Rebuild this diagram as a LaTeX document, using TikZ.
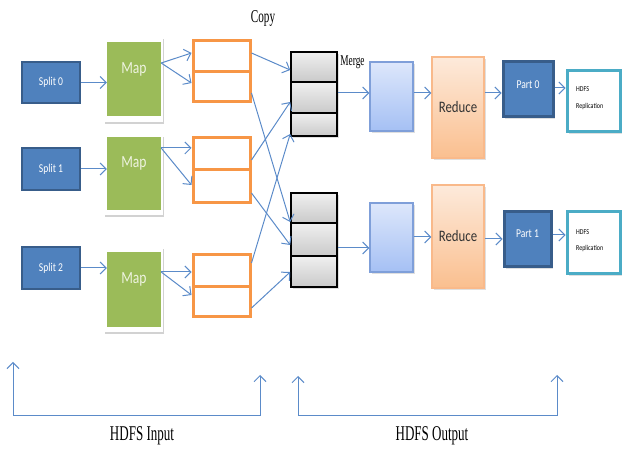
\documentclass[tikz,border=0pt]{standalone}
\usepackage{fontspec}
\setmainfont{Carlito}
\newfontfamily\capfont[FakeStretch=0.62]{Liberation Serif}
\newfontfamily\boxfont[FakeStretch=0.8]{Carlito}
\usetikzlibrary{arrows.meta,shadows}

\definecolor{flow}{HTML}{5B8BC9}
\definecolor{darkfill}{HTML}{4F81BD}
\definecolor{darkedge}{HTML}{385D8A}
\definecolor{mapgreen}{HTML}{9BBB59}
\definecolor{maptext}{HTML}{EEF3E0}
\definecolor{bufedge}{HTML}{F79646}
\definecolor{sorttop}{HTML}{DDE7FB}
\definecolor{sortbot}{HTML}{A5C0F4}
\definecolor{sortedge}{HTML}{7F9FD9}
\definecolor{redtop}{HTML}{FDEADB}
\definecolor{redbot}{HTML}{FABF8F}
\definecolor{rededge}{HTML}{F9B98A}
\definecolor{hdfsedge}{HTML}{4BACC6}

\tikzset{
  softshadow/.style={drop shadow={opacity=0.25,shadow xshift=1.5pt,shadow yshift=-2pt}},
  framedshadow/.style={drop shadow={opacity=0.35,shadow xshift=1pt,shadow yshift=-2.5pt}},
  splitbox/.style={draw=darkedge,line width=2.5pt,fill=darkfill,text=white,
    font=\boxfont\fontsize{12}{14}\selectfont,inner sep=0pt},
  mapframe/.style={fill=white,framedshadow,inner sep=0pt},
  mapbox/.style={fill=mapgreen,inner sep=0pt},
  maplabel/.style={text=maptext,font=\boxfont\fontsize{17}{20}\selectfont,inner sep=0pt},
  bufcell/.style={draw=bufedge,line width=3pt,fill=white,minimum width=57pt,inner sep=0pt},
  mergecell/.style={draw=black,line width=1.6pt,top color=gray!12,bottom color=gray!42,
    minimum width=46pt,inner sep=0pt,softshadow},
  sortbox/.style={draw=sortedge,line width=1.3pt,top color=sorttop,bottom color=sortbot,
    minimum width=43pt,minimum height=69pt,inner sep=0pt,softshadow},
  reducebox/.style={draw=rededge,line width=1.3pt,top color=redtop,bottom color=redbot,
    minimum width=52pt,inner sep=0pt,text=black!80,
    font=\boxfont\fontsize{16}{19}\selectfont,softshadow},
  partbox/.style={draw=darkedge,line width=3pt,fill=darkfill,text=white,inner sep=0pt,
    minimum height=55pt,softshadow},
  hdfsbox/.style={draw=hdfsedge,line width=3pt,fill=white,minimum width=53pt,inner sep=0pt,
    softshadow},
  hdfslabel/.style={anchor=west,inner sep=0pt,font=\boxfont\fontsize{7.5}{8}\selectfont},
  partlabel/.style={text=white,inner sep=0pt,font=\boxfont\fontsize{12}{14}\selectfont},
  captxt/.style={inner sep=0pt,text=black},
  arr/.style={draw=flow,line width=1pt,-{Straight Barb[length=6pt,width=12pt]}},
  span/.style={draw=flow,line width=1pt,{Straight Barb[length=6pt,width=12pt]}-{Straight Barb[length=6pt,width=12pt]}}
}

\begin{document}
\begin{tikzpicture}[x=1pt,y=-1pt]
\useasboundingbox[fill=white] (0,0) rectangle (622,449);

% input splits
\node[splitbox,minimum width=58pt,minimum height=41pt] (s0) at (51,82.5) {Split 0};
\node[splitbox,minimum width=58pt,minimum height=42pt] (s1) at (51,169) {Split 1};
\node[splitbox,minimum width=58pt,minimum height=42pt] (s2) at (51,268) {Split 2};

% map tasks
\node[mapframe,minimum width=59pt,minimum height=85pt] (f0) at (133.5,79.5) {};
\node[mapbox,minimum width=54pt,minimum height=74pt] (g0) at (134,79) {};
\node[maplabel] (t0) at (134,69) {Map};
\node[mapframe,minimum width=59pt,minimum height=80pt] (f1) at (133.5,175) {};
\node[mapbox,minimum width=54pt,minimum height=73pt] (g1) at (134,173.5) {};
\node[maplabel] (t1) at (134,163) {Map};
\node[mapframe,minimum width=59pt,minimum height=85pt] (f2) at (133.5,289.5) {};
\node[mapbox,minimum width=54pt,minimum height=75pt] (g2) at (134,289.5) {};
\node[maplabel] (t2) at (134,279) {Map};

% map output buffers
\node[bufcell,minimum height=31pt] (b0a) at (221.5,56.5) {};
\node[bufcell,minimum height=30pt] (b0b) at (221.5,87) {};
\node[bufcell,minimum height=32pt] (b1a) at (221.5,154) {};
\node[bufcell,minimum height=33pt] (b1b) at (221.5,186.5) {};
\node[bufcell,minimum height=32pt] (b2a) at (221.5,271) {};
\node[bufcell,minimum height=30pt] (b2b) at (221.5,302) {};

% merge stacks
\node[mergecell,minimum height=30pt] (ma1) at (314,67) {};
\node[mergecell,minimum height=31pt] (ma2) at (314,97.5) {};
\node[mergecell,minimum height=23pt] (ma3) at (314,124.5) {};
\node[mergecell,minimum height=30pt] (mb1) at (314,208) {};
\node[mergecell,minimum height=33pt] (mb2) at (314,239.5) {};
\node[mergecell,minimum height=31pt] (mb3) at (314,271.5) {};

% sorted inputs
\node[sortbox] (sa) at (391.5,96.5) {};
\node[sortbox] (sb) at (391.5,237.5) {};

% reducers
\node[reducebox,minimum height=101pt] (ra) at (458,107.5) {Reduce};
\node[reducebox,minimum height=103pt] (rb) at (458,236.5) {Reduce};

% output parts
\node[partbox,minimum width=50pt] (pa) at (528,89.5) {};
\node[partlabel] (pat) at (528,85) {Part 0};
\node[partbox,minimum width=47pt] (pb) at (527.5,239.5) {};
\node[partlabel] (pbt) at (527.5,234) {Part 1};

% replication targets
\node[hdfsbox,minimum height=61pt] (ha) at (593.5,101.5) {};
\node[hdfslabel] (ha1) at (576,89) {HDFS};
\node[hdfslabel] (ha2) at (576,107) {Replication};
\node[hdfsbox,minimum height=62pt] (hb) at (593.5,243) {};
\node[hdfslabel] (hb1) at (576,232) {HDFS};
\node[hdfslabel] (hb2) at (576,249) {Replication};

% captions
\node[captxt,font=\capfont\fontsize{18}{20}\selectfont] (copy) at (263,18) {Copy};
\node[captxt,font=\capfont\fontsize{15}{17}\selectfont] (merge) at (352.5,62) {Merge};
\node[captxt,font=\capfont\fontsize{21}{24}\selectfont] (hin) at (142,436) {HDFS Input};
\node[captxt,font=\capfont\fontsize{21}{24}\selectfont] (hout) at (432,436) {HDFS Output};

% splits to maps
\draw[arr] (s0.east) -- (g0.west |- s0.east);
\draw[arr] (s1.east) -- (g1.west |- s1.east);
\draw[arr] (s2.east) -- (g2.west |- s2.east);

% maps to buffers
\draw[arr] (g0.east |- 0,63) -- (b0a.west |- 0,53);
\draw[arr] (g0.east |- 0,63) -- (b0b.west |- 0,83);
\draw[arr] (g1.east |- 0,148) -- (b1a.west |- 0,148);
\draw[arr] (g1.east |- 0,148) -- (b1b.west |- 0,185);
\draw[arr] (g2.east |- 0,272) -- (b2a.west |- 0,272);
\draw[arr] (g2.east |- 0,272) -- (b2b.west |- 0,295);

% shuffle copy
\draw[arr] (b0a.east |- 0,53) -- (ma1.west |- 0,70);
\draw[arr] (b0b.east |- 0,93) -- (mb1.west |- 0,222);
\draw[arr] (b1a.east |- 0,160) -- (ma2.west |- 0,102);
\draw[arr] (b1b.east |- 0,193) -- (mb2.west |- 0,245);
\draw[arr] (b2a.east |- 0,263) -- (ma3.west |- 0,134);
\draw[arr] (b2b.east |- 0,308) -- (mb3.west |- 0,272);

% merge to reduce to output
\draw[arr] (ma2.east |- 0,93) -- (sa.west |- 0,93);
\draw[arr] (mb2.east |- 0,248) -- (sb.west |- 0,248);
\draw[arr] (sa.east |- 0,93) -- (ra.west |- 0,93);
\draw[arr] (sb.east |- 0,237) -- (rb.west |- 0,237);
\draw[arr] (ra.east |- 0,93) -- (pa.west |- 0,93);
\draw[arr] (rb.east |- 0,239) -- (pb.west |- 0,239);
\draw[arr] (pa.east |- 0,88) -- (ha.west |- 0,88);
\draw[arr] (pb.east |- 0,235) -- (hb.west |- 0,235);

% HDFS spans
\coordinate (inL) at (13,362);
\coordinate (inBL) at (13,416);
\coordinate (inBR) at (260,416);
\coordinate (inR) at (260,375);
\coordinate (outL) at (298,376);
\coordinate (outBL) at (298,416);
\coordinate (outBR) at (557,416);
\coordinate (outR) at (557,375);
\draw[span] (inL) -- (inBL) -- (inBR) -- (inR);
\draw[span] (outL) -- (outBL) -- (outBR) -- (outR);
\end{tikzpicture}
\end{document}
